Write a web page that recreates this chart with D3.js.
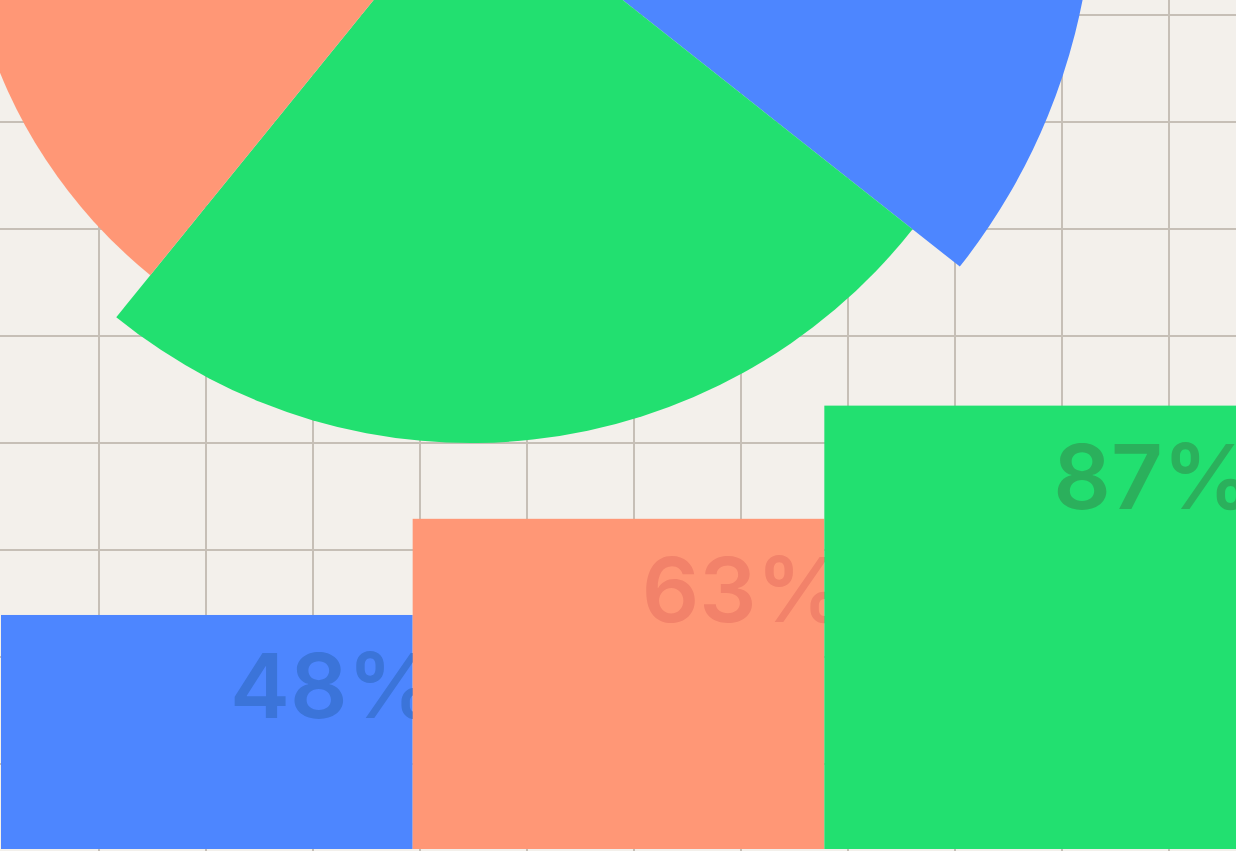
<!DOCTYPE html>
<html>
<head>
<meta charset="utf-8">
<script src="https://cdn.jsdelivr.net/npm/d3@7"></script>
<style>
  html, body { margin: 0; padding: 0; background: #f3f0eb; overflow: hidden; }
  svg { display: block; }
</style>
</head>
<body>
<div id="chart"></div>
<script>
// Bar series: bar level (0-100 of page height) and the printed label.
var barNames = ["A", "B", "C"];
var barLevels = [27.5, 38.8, 52.1];
var barLabels = ["48%", "63%", "87%"];

// Pie series: share of the circle and relative reach of each wedge.
var pieNames = ["A", "C", "B"];
var pieShares = [35.65, 25.2, 39.15];
var pieReach = [110.7, 100, 90.4];

var palette = {
    A: {fill: "#4d86ff", text: "#3b74d9"},
    B: {fill: "#ff9776", text: "#f2826a"},
    C: {fill: "#22e070", text: "#2bb05c"}
};

var width = 1236, height = 851;

var svg = d3.select("#chart").append("svg")
    .attr("width", width)
    .attr("height", height);

svg.append("rect")
    .attr("width", width)
    .attr("height", height)
    .attr("fill", "#f3f0eb");

// Background grid, one cell every 107px.
var gridX = d3.range(99, width, 107);
var gridY = d3.range(15, height, 107);
var grid = svg.append("g").attr("stroke", "#c6bfb6").attr("stroke-width", 2);
grid.selectAll("line.v")
    .data(gridX)
    .enter()
    .append("line")
    .attr("class", "v")
    .attr("x1", function(d) { return d; })
    .attr("x2", function(d) { return d; })
    .attr("y1", 0)
    .attr("y2", height);
grid.selectAll("line.h")
    .data(gridY)
    .enter()
    .append("line")
    .attr("class", "h")
    .attr("y1", function(d) { return d; })
    .attr("y2", function(d) { return d; })
    .attr("x1", 0)
    .attr("x2", width);

// Pie, mostly pushed off the top of the page.
var reach = d3.scaleLinear().domain([0, 100]).range([0, 563]);
var pie = d3.pie().sort(null).value(function(d) { return d.share; });
var pieData = pieNames.map(function(n, i) {
    return {name: n, share: pieShares[i], reach: pieReach[i]};
});

var pieG = svg.append("g").attr("transform", "translate(471,-120)");
pieG.selectAll("path")
    .data(pie(pieData))
    .enter()
    .append("path")
    .attr("fill", function(d) { return palette[d.data.name].fill; })
    .attr("d", function(d) {
        return d3.arc().innerRadius(0).outerRadius(reach(d.data.reach))(d);
    });

// Bars along the bottom, each label tucked under the next bar.
var base = height - 2;
var x = d3.scaleBand().domain(barNames).range([1, width]).padding(0);
var y = d3.scaleLinear().domain([0, 100]).range([base, base - height]);

barNames.forEach(function(n, i) {
    var g = svg.append("g");
    g.append("rect")
        .attr("x", x(n))
        .attr("y", y(barLevels[i]))
        .attr("width", x.bandwidth())
        .attr("height", base - y(barLevels[i]))
        .attr("fill", palette[n].fill);
    g.append("text")
        .attr("x", x(n) + 229)
        .attr("y", y(barLevels[i]) + 103)
        .attr("fill", palette[n].text)
        .style("font-family", "Inter, 'Noto Sans', sans-serif")
        .style("font-weight", 600)
        .style("font-size", "90px")
        .text(barLabels[i]);
});
</script>
</body>
</html>
